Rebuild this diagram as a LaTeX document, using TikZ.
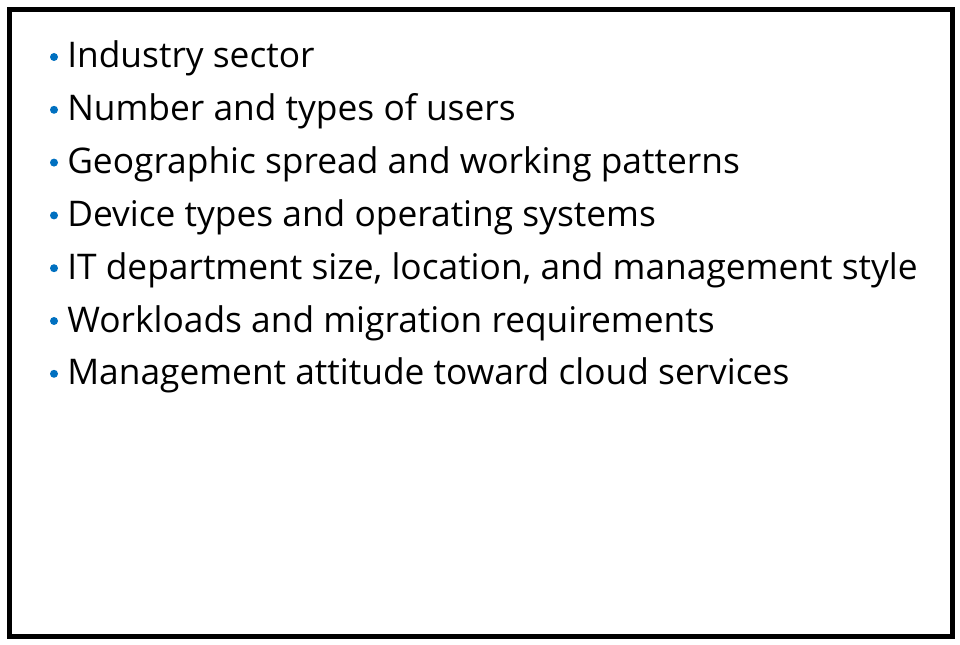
\documentclass[tikz,border=0pt]{standalone}
\usepackage{fontspec}
\setmainfont{Open Sans}
\definecolor{bulletblue}{RGB}{0,112,192}
\begin{document}
\begin{tikzpicture}[x=0.75pt,y=-0.75pt,
  item/.style={anchor=base west,inner sep=0pt,font=\fontsize{26.5}{30}\selectfont},
  dot/.style={circle,fill=bulletblue,inner sep=0pt,minimum size=6pt}]
\useasboundingbox (0,0) rectangle (960,645);
\node[draw=black,line width=3.75pt,minimum width=943*0.75pt,minimum height=627*0.75pt,inner sep=0pt] (frame) at (481,323) {};
\foreach \t [count=\i] in {Industry sector,Number and types of users,Geographic spread and working patterns,Device types and operating systems,{IT department size, location, and management style},Workloads and migration requirements,Management attitude toward cloud services}{
  \node[item] (t\i) at (67,{68+52.8*(\i-1)}) {\t};
  \node[dot] (b\i) at (54,{57+52.8*(\i-1)}) {};
}
\end{tikzpicture}
\end{document}
